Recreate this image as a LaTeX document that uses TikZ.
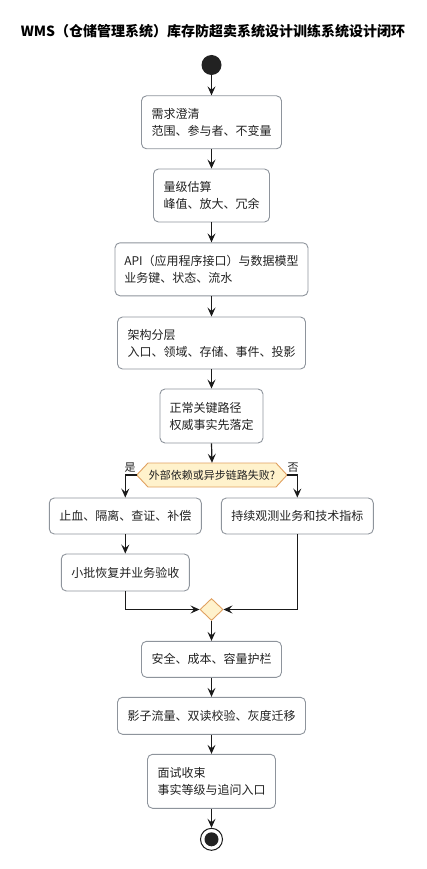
\documentclass[tikz,border=0pt]{standalone}
\usepackage{fontspec}
\setmainfont{Noto Sans CJK SC}
\usetikzlibrary{arrows.meta,shapes.geometric}
\definecolor{txt}{HTML}{222222}
\definecolor{bord}{HTML}{8E949C}
\definecolor{decfill}{HTML}{FFF2CC}
\definecolor{decdraw}{HTML}{E0A060}
\definecolor{edge}{HTML}{1A1A1A}
\tikzset{
 box/.style={draw=bord, line width=0.9pt, rounded corners=5pt, fill=white, text=txt, font=\fontsize{12}{17}\selectfont, align=left, inner sep=0pt},
 flow/.style={draw=edge, line width=1.2pt, -{Stealth[length=9pt,width=8pt,inset=3.5pt]}},
 lbl/.style={text=txt, font=\fontsize{11}{13}\selectfont, inner sep=0pt},
 decshape/.style={draw=decdraw, fill=decfill, line width=0.9pt},
}
\begin{document}
\begin{tikzpicture}[x=1pt,y=-1pt]
\useasboundingbox (0,0) rectangle (426,869);
\node[font=\bfseries\fontsize{14}{16}\selectfont, text=black, inner sep=0pt] (title) at (213,31) {WMS（仓储管理系统）库存防超卖系统设计训练系统设计闭环};
\node[circle, fill=txt, minimum size=20pt, inner sep=0pt] (start) at (211.5,65) {};
\node[box, minimum width=140pt, minimum height=53pt] (n1) at (211.5,122.3) {需求澄清\\范围、参与者、不变量};
\node[box, minimum width=116pt, minimum height=53pt] (n2) at (211.5,195.5) {量级估算\\峰值、放大、冗余};
\node[box, minimum width=193pt, minimum height=53pt] (n3) at (211.5,269.3) {API（应用程序接口）与数据模型\\业务键、状态、流水};
\node[box, minimum width=188pt, minimum height=52pt] (n4) at (211.5,343) {架构分层\\入口、领域、存储、事件、投影};
\node[box, minimum width=103pt, minimum height=54pt] (n5) at (211.5,416) {正常关键路径\\权威事实先落定};
% decision
\coordinate (decL) at (136.7,475);
\coordinate (decR) at (287,475);
\draw[decshape] (148,463) -- (276,463) -- (decR) -- (276,487) -- (148,487) -- (decL) -- cycle;
\node[lbl, minimum width=128pt, minimum height=24pt] (dec) at (212,475) {外部依赖或异步链路失败?};
\node[lbl] (yes) at (130,468) {是};
\node[lbl] (no) at (293,468) {否};
\node[box, minimum width=152pt, minimum height=36pt] (n6) at (125.3,516) {止血、隔离、查证、补偿};
\node[box, minimum width=152pt, minimum height=36pt] (n7) at (297.3,516) {持续观测业务和技术指标};
\node[box, minimum width=128pt, minimum height=37pt] (n8) at (125.3,572.5) {小批恢复并业务验收};
\node[diamond, decshape, minimum width=23pt, minimum height=22pt, inner sep=0pt] (m) at (211.5,609.5) {};
\node[box, minimum width=140pt, minimum height=36pt] (n9) at (211.5,659.3) {安全、成本、容量护栏};
\node[box, minimum width=188pt, minimum height=37pt] (n10) at (211.5,715.8) {影子流量、双读校验、灰度迁移};
\node[box, minimum width=128pt, minimum height=54pt] (n11) at (211.5,781.3) {面试收束\\事实等级与追问入口};
\node[circle, draw=edge, line width=1pt, fill=white, minimum size=22pt, inner sep=0pt] (endo) at (211.5,839.3) {};
\node[circle, fill=txt, minimum size=14pt, inner sep=0pt] (endi) at (endo) {};
% connectors
\draw[flow] (start.south) -- (n1.north);
\draw[flow] (n1.south) -- (n2.north);
\draw[flow] (n2.south) -- (n3.north);
\draw[flow] (n3.south) -- (n4.north);
\draw[flow] (n4.south) -- (n5.north);
\draw[flow] (n5.south) -- (dec.north);
\draw[flow] (decL) -| (n6.north);
\draw[flow] (decR) -| (n7.north);
\draw[flow] (n6.south) -- (n8.north);
\draw[flow] (n8.south) |- (m.west);
\draw[flow] (n7.south) |- (m.east);
\draw[flow] (m.south) -- (n9.north);
\draw[flow] (n9.south) -- (n10.north);
\draw[flow] (n10.south) -- (n11.north);
\draw[flow] (n11.south) -- (endo.north);
\end{tikzpicture}
\end{document}
